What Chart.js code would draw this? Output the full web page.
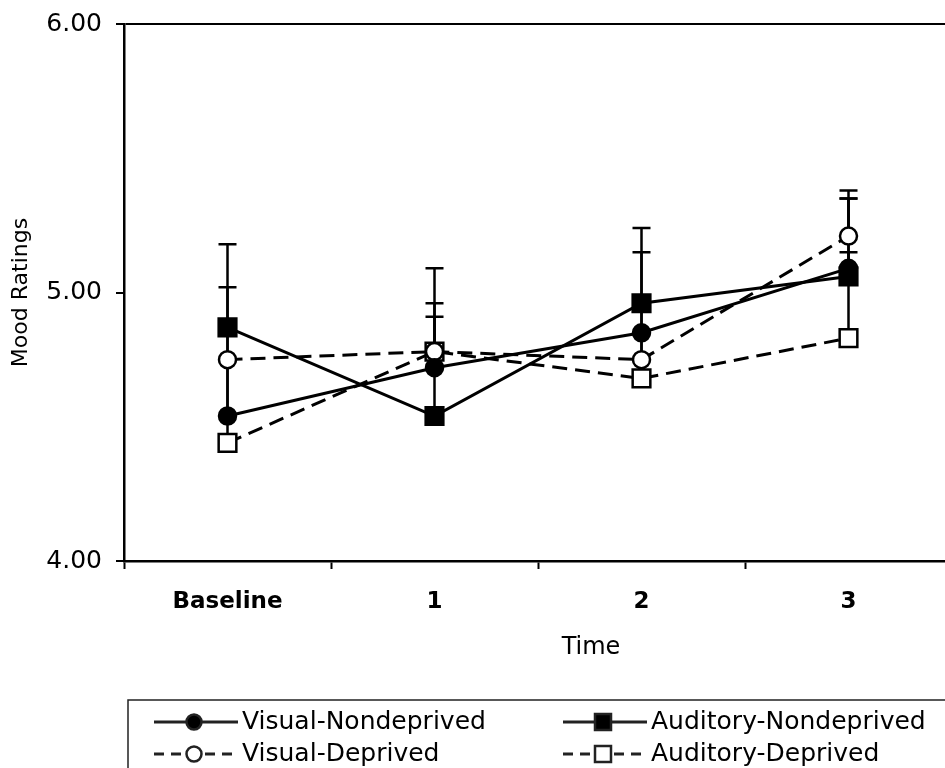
<!DOCTYPE html>
<html>
<head>
<meta charset="utf-8">
<script src="https://cdn.jsdelivr.net/npm/chart.js@4"></script>
<style>
  html, body { margin: 0; padding: 0; background: #fff; }
  #wrap { width: 945px; height: 768px; overflow: hidden; position: relative; }
  #chart { position: absolute; left: 0; top: 0; }
</style>
</head>
<body>
<div id="wrap">
  <canvas id="chart" width="967" height="768"></canvas>
</div>
<script>
const timeLabels = ["Baseline", "1", "2", "3"];
const yTicks = [4, 5, 6];

// means
const visualNondeprived = [4.54, 4.72, 4.85, 5.09];
const auditoryNondeprived = [4.87, 4.54, 4.96, 5.06];
const visualDeprived = [4.75, 4.78, 4.75, 5.21];
const auditoryDeprived = [4.44, 4.78, 4.68, 4.83];

// upper error bars (only the top half is drawn in the original)
const visualNondeprivedErr = [0.33, 0.24, 0.30, 0.26];
const auditoryNondeprivedErr = [0.31, 0.55, 0.28, 0.29];
const visualDeprivedErr = [0.27, 0.13, 0.21, 0.17];
const auditoryDeprivedErr = [0.31, 0.02, 0.17, 0.32];

const FONT = "DejaVu Sans";

function series(label, data, err, filled, dashed, shape) {
  return {
    label: label,
    data: data,
    errors: err,
    borderColor: "#000",
    borderWidth: 3,
    borderDash: dashed ? [15, 8] : [],
    pointStyle: shape,
    pointRadius: shape === "rect" ? 12.5 : 8.5,
    pointHoverRadius: shape === "rect" ? 12.5 : 8.5,
    pointBorderWidth: 2.5,
    pointBorderColor: "#000",
    pointBackgroundColor: filled ? "#000" : "#fff",
    fill: false,
    tension: 0
  };
}

// error bars, drawn under the markers
const errorBars = {
  id: "errorBars",
  beforeDatasetsDraw(chart) {
    const ctx = chart.ctx;
    const y = chart.scales.y;
    ctx.save();
    ctx.strokeStyle = "#000";
    ctx.lineWidth = 2.5;
    chart.data.datasets.forEach((ds, i) => {
      const meta = chart.getDatasetMeta(i);
      meta.data.forEach((pt, j) => {
        const top = y.getPixelForValue(ds.data[j] + ds.errors[j]);
        ctx.beginPath();
        ctx.moveTo(pt.x, pt.y);
        ctx.lineTo(pt.x, top);
        ctx.moveTo(pt.x - 9, top);
        ctx.lineTo(pt.x + 9, top);
        ctx.stroke();
      });
    });
    ctx.restore();
  }
};

// x title + legend box under the axis, two columns
const boxLegend = {
  id: "boxLegend",
  afterDraw(chart) {
    const ctx = chart.ctx;
    const cols = [154, 563];
    const rows = [722, 754];
    ctx.save();
    ctx.fillStyle = "#000";
    ctx.textAlign = "center";
    ctx.textBaseline = "middle";
    ctx.font = "24px '" + FONT + "'";
    ctx.fillText("Time", 591, 648);
    ctx.textAlign = "left";

    ctx.strokeStyle = "#222";
    ctx.lineWidth = 1.5;
    ctx.strokeRect(128, 700, 900, 200);
    ctx.font = "25px '" + FONT + "'";
    chart.data.datasets.forEach((ds, i) => {
      const x = cols[i % 2];
      const yy = rows[Math.floor(i / 2)];
      ctx.lineWidth = 3;
      ctx.setLineDash(ds.borderDash.length ? [10, 7] : []);
      ctx.beginPath();
      ctx.moveTo(x, yy);
      ctx.lineTo(x + 84, yy);
      ctx.stroke();
      ctx.setLineDash([]);
      const cx = x + 40;
      ctx.lineWidth = 2.5;
      ctx.fillStyle = ds.pointBackgroundColor;
      ctx.beginPath();
      if (ds.pointStyle === "rect") {
        ctx.rect(cx - 8, yy - 8, 16, 16);
      } else {
        ctx.arc(cx, yy, 7.5, 0, Math.PI * 2);
      }
      ctx.fill();
      ctx.stroke();
      ctx.fillStyle = "#000";
      ctx.fillText(ds.label, x + 88, yy);
    });
    ctx.restore();
  }
};

new Chart(document.getElementById("chart"), {
  type: "line",
  data: {
    labels: timeLabels,
    datasets: [
      series("Visual-Nondeprived", visualNondeprived, visualNondeprivedErr, true, false, "circle"),
      series("Auditory-Nondeprived", auditoryNondeprived, auditoryNondeprivedErr, true, false, "rect"),
      series("Visual-Deprived", visualDeprived, visualDeprivedErr, false, true, "circle"),
      series("Auditory-Deprived", auditoryDeprived, auditoryDeprivedErr, false, true, "rect")
    ]
  },
  options: {
    responsive: false,
    animation: false,
    events: [],
    layout: { padding: { top: 24, left: 0, right: 0, bottom: 0 } },
    plugins: {
      legend: { display: false },
      tooltip: { enabled: false }
    },
    scales: {
      x: {
        offset: true,
        afterFit(scale) {
          scale.height = 768 - 561;
        },
        grid: {
          offset: true,
          drawOnChartArea: false,
          tickLength: 8,
          tickWidth: 2,
          tickColor: "#000"
        },
        border: { display: true, color: "#000", width: 2.5 },
        ticks: {
          padding: 19,
          color: "#000",
          font: { family: FONT, size: 23, weight: "bold" }
        }
      },
      y: {
        min: 4,
        max: 6,
        afterBuildTicks(scale) {
          scale.ticks = yTicks.map(v => ({ value: v }));
        },
        afterFit(scale) {
          scale.width = 124;
          scale.paddingTop = 0;
          scale.paddingBottom = 0;
        },
        grid: {
          color: ctx => (ctx.tick && ctx.tick.value === 6 ? "#000" : "rgba(0,0,0,0)"),
          lineWidth: 2,
          tickLength: 8,
          tickWidth: 2,
          tickColor: "#000"
        },
        border: { display: true, color: "#000", width: 2.5 },
        ticks: {
          padding: 14,
          color: "#000",
          font: { family: FONT, size: 25 },
          callback: v => Number(v).toFixed(2)
        },
        title: {
          display: true,
          text: "Mood Ratings",
          color: "#000",
          font: { family: FONT, size: 22 },
          padding: { top: 8, bottom: 0 }
        }
      }
    }
  },
  plugins: [errorBars, boxLegend]
});
</script>
</body>
</html>
